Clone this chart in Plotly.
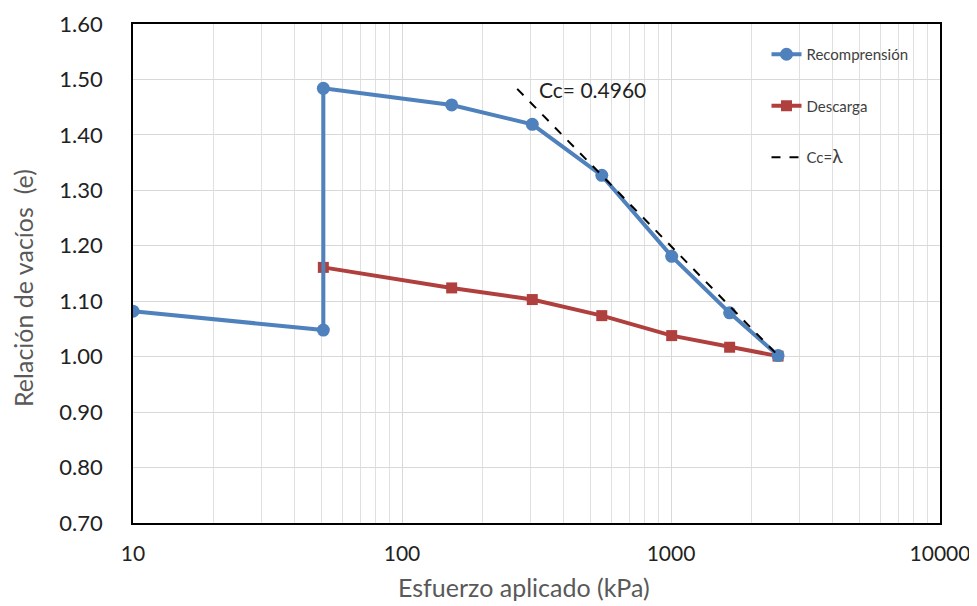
import plotly.graph_objects as go

# Data
recomp_x = [10, 51, 51, 153, 305, 553, 1006, 1652, 2500]
recomp_e = [1.082, 1.048, 1.484, 1.454, 1.419, 1.327, 1.181, 1.079, 1.002]

desc_x = [51, 153, 305, 553, 1006, 1652, 2500]
desc_e = [1.161, 1.124, 1.103, 1.074, 1.038, 1.017, 1.001]

cc_x = [268, 2500]
cc_e = [1.483, 1.002]
cc_value = 0.4960

y_ticks = [0.70, 0.80, 0.90, 1.00, 1.10, 1.20, 1.30, 1.40, 1.50, 1.60]
x_ticks = [10, 100, 1000, 10000]

FONT = "Lato, 'Open Sans', sans-serif"
BLUE = "#4f81bd"
RED = "#b0403d"
TITLE_GRAY = "#595959"

fig = go.Figure()
fig.add_trace(go.Scatter(
    x=desc_x, y=desc_e, mode="lines+markers", name="Descarga",
    legendgroup="b", legendrank=2,
    line=dict(color=RED, width=4),
    marker=dict(symbol="square", size=11, color=RED),
))
fig.add_trace(go.Scatter(
    x=recomp_x, y=recomp_e, mode="lines+markers", name="Recomprensión",
    legendgroup="a", legendrank=1,
    line=dict(color=BLUE, width=4),
    marker=dict(symbol="circle", size=13, color=BLUE),
))
fig.add_trace(go.Scatter(
    x=cc_x, y=cc_e, mode="lines",
    name="Cc=<span style='font-size:19px'>λ</span>",
    legendgroup="c", legendrank=3,
    line=dict(color="black", width=2, dash="dash"),
))

fig.add_annotation(
    x=2.50, y=1.481, xref="x", yref="y", text=f"Cc= {cc_value:.4f}",
    showarrow=False, xanchor="left", yanchor="middle",
    font=dict(family=FONT, size=21, color="#222222"),
)

# axis titles
fig.add_annotation(
    x=-0.1363, y=0.471, xref="paper", yref="paper",
    text="Relación de vacíos  (e)", textangle=-90,
    showarrow=False, xanchor="center", yanchor="middle",
    font=dict(family=FONT, size=25, color=TITLE_GRAY),
)
fig.add_annotation(
    x=0.4845, y=-0.129, xref="paper", yref="paper",
    text="Esfuerzo aplicado (kPa)",
    showarrow=False, xanchor="center", yanchor="middle",
    font=dict(family=FONT, size=25, color=TITLE_GRAY),
)

# white background behind legend (above gridlines, below traces)
fig.add_shape(
    type="rect", xref="paper", yref="paper",
    x0=0.725, x1=1.0, y0=0.671, y1=1.0,
    fillcolor="white", line=dict(width=0), layer="between",
)

fig.update_layout(
    width=969, height=598,
    margin=dict(l=125, r=37, t=16, b=83, autoexpand=False),
    paper_bgcolor="white", plot_bgcolor="white",
    font=dict(family=FONT, color="#222222"),
    showlegend=True,
    legend=dict(
        x=0.785, y=0.972, xanchor="left", yanchor="top",
        bgcolor="rgba(0,0,0,0)", borderwidth=0,
        font=dict(family=FONT, size=15, color="#404040"),
        traceorder="grouped", tracegroupgap=29,
    ),
    xaxis=dict(
        type="log", range=[1, 4], automargin=False,
        tickvals=x_ticks, ticktext=[str(v) for v in x_ticks],
        tickfont=dict(family=FONT, size=21, color="#222222"),
        ticks="", ticklabelstandoff=11,
        showgrid=True, gridcolor="#d9d9d9", gridwidth=1,
        minor=dict(showgrid=True, gridcolor="#e0e0e0", gridwidth=1, dtick="D1"),
        showline=True, linecolor="black", linewidth=1.5, mirror=True,
        zeroline=False,
    ),
    yaxis=dict(
        range=[0.70, 1.60], automargin=False,
        tickvals=y_ticks, ticktext=[f"{v:.2f}" for v in y_ticks],
        tickfont=dict(family=FONT, size=22, color="#222222"),
        ticks="", ticklabelstandoff=24,
        showgrid=True, gridcolor="#d9d9d9", gridwidth=1,
        showline=True, linecolor="black", linewidth=1.5, mirror=True,
        zeroline=False,
    ),
)

fig.write_html("out.html")
